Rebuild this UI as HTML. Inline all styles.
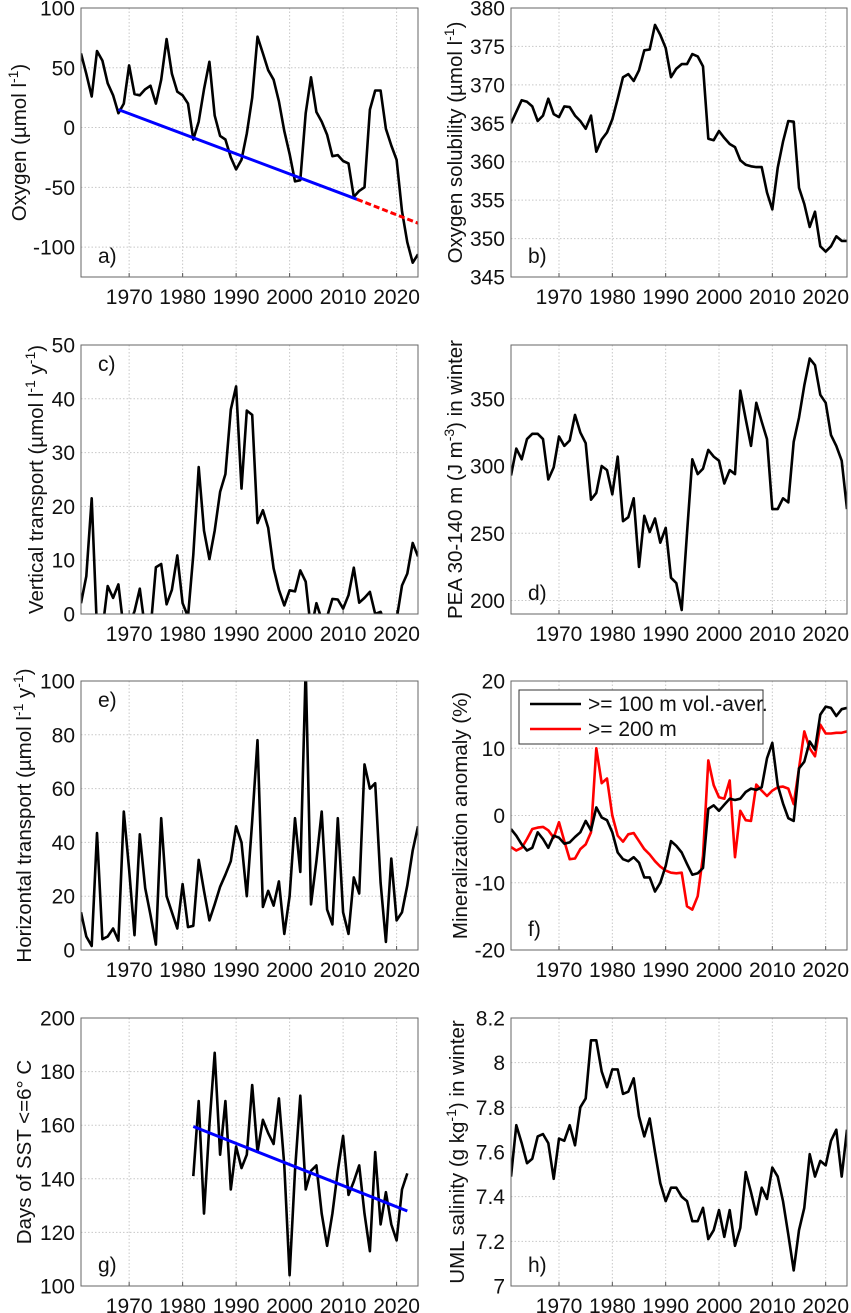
<!DOCTYPE html>
<html><head><meta charset="utf-8">
<style>
html,body{margin:0;padding:0;background:#fff;}
svg{display:block;font-family:"Liberation Sans",Arial,sans-serif;}
.tick{font-size:21px;fill:#111;}
.ttl{font-size:20.5px;fill:#111;}
.grid{stroke:#c8c8c8;stroke-width:1;stroke-dasharray:1.5,2;}
</style></head>
<body>
<svg id="fig" width="851" height="1313" viewBox="0 0 851 1313" xmlns="http://www.w3.org/2000/svg"></svg>
<script>
const years = [];
for (let y = 1961; y <= 2024; y++) years.push(y);
const oxygen = [62,45,26,64,56,37,27,12,20,52,28,27,32,35,20,40,74,45,30,27,20,-10,5,32,55,10,-7,-10,-25,-35,-27,-5,25,76,62,48,40,22,-3,-22,-45,-44,12,42,13,5,-6,-24,-23,-28,-30,-58,-53,-50,15,31,31,-1,-15,-27,-70,-96,-113,-106];
const oxyTrendYears = [1968, 2012.6];
const oxyTrendVals = [15, -60];
const oxyProjYears = [2012.6, 2024];
const oxyProjVals = [-60, -80];
const solubility = [365,366.5,368,367.8,367.2,365.3,366,368.2,366.2,365.8,367.2,367.1,366,365.3,364.3,366,361.3,362.9,363.8,365.5,368.2,371,371.4,370.5,371.9,374.5,374.6,377.8,376.5,374.8,371,372.1,372.7,372.7,374,373.7,372.4,363,362.8,364,363.1,362.3,361.9,360.2,359.6,359.4,359.3,359.3,356,353.8,359.2,362.6,365.3,365.2,356.6,354.5,351.5,353.5,349,348.3,349,350.3,349.7,349.7];
const vertical = [2,7,21.5,-3,-3,5.2,3,5.5,-3,-2,0.5,4.7,-3,-3,8.7,9.3,1.8,4.5,10.9,2,-0.5,11,27.3,15.5,10.2,15.5,22.7,26,38,42.3,23.3,37.8,37,16.9,19.3,16,8.5,4.5,1.6,4.4,4.2,8.1,6,-3,2,-1,-0.5,2.8,2.7,1,3.5,8.6,2.1,3,4.1,0,0.4,-2,-3,-1,5.3,7.5,13.2,10.7];
const pea = [293,313,305,320,324,324,320,290,299,322,315,319,338,325,317,275,280,300,297,279,307,259,262,276,225,263,251,261,243,254,217,213,193,250,305,294,298,312,307,304,287,297,294,356,335,315,347,333,320,268,268,276,273,318,336,360,380,375,353,347,323,315,304,268];
const horizontal = [14,5,1.5,43.5,4,5,8,3.5,51.5,30,5.5,43,23,13,2,49,20,14,8,24.5,8.5,9,33.5,22,11,17,23.5,28,33,46,40,20,48,78,16,22,16.5,25.5,6,20,49,29,105,17,33,51.5,15,9.5,49,14,6,27,21,69,60,62,25,3,34,11,14,24,37,46];
const mineral100 = [-2,-3,-4.3,-5.2,-4.8,-2.5,-3.5,-4.8,-3,-3.3,-4.2,-4,-3.2,-2.5,-0.8,-2.2,1.2,-0.3,-0.7,-2.5,-5.5,-6.5,-6.8,-6.2,-7,-9.2,-9.2,-11.3,-10,-7.5,-3.8,-4.5,-5.5,-7.2,-8.8,-8.6,-7.8,1,1.5,0.7,1.6,2.5,2.3,2.5,3.5,4,3.8,4.2,8.5,10.8,4.5,1.8,-0.4,-0.8,7,8,11,9.8,15,16.2,16,14.8,15.8,16];
const mineral200 = [-4.7,-5.2,-4.8,-3.5,-2,-1.8,-1.7,-2.2,-3.3,-1,-3.8,-6.5,-6.4,-5,-4.3,-2.5,10,4.8,5.5,0,-3,-3.9,-2.8,-2.6,-3.8,-5,-5.8,-6.8,-7.6,-8.2,-8.5,-8.6,-8.5,-13.5,-14,-12,-6,8.2,4.5,2.7,2.5,5.2,-6.2,0.7,-0.7,-0.8,4.6,3.7,2.9,3.7,4.2,4.3,4,1.7,7,12.5,10,8.8,13.5,12.2,12.2,12.3,12.3,12.5];
const sstYears = [];
for (let y = 1982; y <= 2022; y++) sstYears.push(y);
const sstDays = [141,169,127,160,187,149,169,136,152,144,149,175,150,162,157,153,170,145,104,143,171,136,143,145,127,115,127,143,156,134,139,145,127,113,150,123,135,123,117,136,142];
const sstTrendYears = [1982, 2022];
const sstTrendVals = [159.5, 128];
const salinity = [7.49,7.72,7.64,7.55,7.57,7.67,7.68,7.64,7.48,7.66,7.65,7.72,7.63,7.80,7.84,8.10,8.10,7.96,7.89,7.97,7.97,7.86,7.87,7.93,7.76,7.67,7.75,7.60,7.46,7.38,7.44,7.44,7.40,7.38,7.29,7.29,7.35,7.21,7.25,7.34,7.22,7.34,7.18,7.26,7.51,7.42,7.32,7.44,7.39,7.53,7.49,7.38,7.23,7.07,7.25,7.35,7.59,7.49,7.56,7.54,7.65,7.70,7.49,7.70];
const xTicks = [1970,1980,1990,2000,2010,2020];

const NS = "http://www.w3.org/2000/svg";
const fig = document.getElementById('fig');
function mk(tag, attrs, parent) {
  const e = document.createElementNS(NS, tag);
  for (const k in attrs) e.setAttribute(k, attrs[k]);
  (parent || fig).appendChild(e);
  return e;
}
const XMIN = 1961, XMAX = 2024;
let clipId = 0;

function panel(p) {
  const g = mk('g', {});
  
  
  const xs = v => p.x0 + (v - XMIN) / (XMAX - XMIN) * (p.x1 - p.x0);
  const ys = v => p.y1 - (v - p.ymin) / (p.ymax - p.ymin) * (p.y1 - p.y0);
  xTicks.forEach(t => {
    const l = mk('line', {x1: xs(t), x2: xs(t), y1: p.y0, y2: p.y1, class: 'grid'}, g);
    
    
    const tk = mk('line', {x1: xs(t), x2: xs(t), y1: p.y1, y2: p.y1 - 4, stroke: '#555', 'stroke-width': 1}, g);
    
    
    const tx = mk('text', {x: xs(t), y: p.y1 + 27, 'text-anchor': 'middle', class: 'tick'}, g);
    tx.textContent = t;
    
    
  });
  p.yticks.forEach((t, i) => {
    const l = mk('line', {x1: p.x0, x2: p.x1, y1: ys(t), y2: ys(t), class: 'grid'}, g);
    
    
    const tx = mk('text', {x: p.x0 - 6, y: ys(t) + 7.5, 'text-anchor': 'end', class: 'tick'}, g);
    tx.textContent = p.ylabels ? p.ylabels[i] : t;
    
    
  });
  const cid = 'clip' + (clipId++);
  const cp = mk('clipPath', {id: cid}, g);
  mk('rect', {x: p.x0, y: p.y0, width: p.x1 - p.x0, height: p.y1 - p.y0}, cp);
  const sg = mk('g', {'clip-path': 'url(#' + cid + ')'}, g);
  p.series.forEach(s => {
    const d = s.xs.map((x, i) => (i ? 'L' : 'M') + xs(x).toFixed(1) + ',' + ys(s.ys[i]).toFixed(1)).join('');
    const a = {d: d, fill: 'none', stroke: s.color, 'stroke-width': s.w || 2.6, 'stroke-linejoin': 'round'};
    if (s.dash) a['stroke-dasharray'] = s.dash;
    const path = mk('path', a, sg);
    
    
  });
  const box = mk('rect', {x: p.x0, y: p.y0, width: p.x1 - p.x0, height: p.y1 - p.y0, fill: 'none', stroke: '#666', 'stroke-width': 1}, g);
  
  
  const ly = p.labelTop ? p.y0 + 26 : p.y1 - 14;
  const lt = mk('text', {x: p.x0 + 17, y: ly, class: 'tick'}, g);
  lt.textContent = p.id + ')';
  
  
  const cy = (p.y0 + p.y1) / 2;
  const tt = mk('text', {x: 0, y: 0, 'text-anchor': 'middle', class: 'ttl', transform: 'translate(' + p.tx + ',' + cy + ') rotate(-90)'}, g);
  
  
  p.title.forEach(part => {
    const ts = mk('tspan', part[1] ? {'baseline-shift': 'super', 'font-size': '14px'} : {}, tt);
    ts.textContent = part[0];
  });
  return g;
}

const L = [81, 418], R = [511, 847];
const rows = [[8, 277], [345, 614], [681, 950], [1018, 1286]];

panel({id: 'a', x0: L[0], x1: L[1], y0: rows[0][0], y1: rows[0][1], ymin: -125, ymax: 100, yticks: [-100, -50, 0, 50, 100], tx: 26,
  title: [['Oxygen (\u00b5mol l'], ['-1', 1], [')']],
  series: [{xs: years, ys: oxygen, color: '#000', name: 'oxygen-line'},
    {xs: oxyTrendYears, ys: oxyTrendVals, color: '#0000ff', w: 3, name: 'oxygen-trend-line'},
    {xs: oxyProjYears, ys: oxyProjVals, color: '#ff0000', w: 3, dash: '6,3', name: 'oxygen-trend-projection'}]});
panel({id: 'b', x0: R[0], x1: R[1], y0: rows[0][0], y1: rows[0][1], ymin: 345, ymax: 380, yticks: [345, 350, 355, 360, 365, 370, 375, 380], tx: 462,
  title: [['Oxygen solubility (\u00b5mol l'], ['-1', 1], [')']],
  series: [{xs: years, ys: solubility, color: '#000', name: 'oxygen-solubility-line'}]});
panel({id: 'c', x0: L[0], x1: L[1], y0: rows[1][0], y1: rows[1][1], ymin: 0, ymax: 50, yticks: [0, 10, 20, 30, 40, 50], tx: 43, labelTop: true,
  title: [['Vertical transport (\u00b5mol l'], ['-1', 1], [' y'], ['-1', 1], [')']],
  series: [{xs: years, ys: vertical, color: '#000', name: 'vertical-transport-line'}]});
panel({id: 'd', x0: R[0], x1: R[1], y0: rows[1][0], y1: rows[1][1], ymin: 190, ymax: 390, yticks: [200, 250, 300, 350], tx: 462,
  title: [['PEA 30-140 m (J m'], ['-3', 1], [') in winter']],
  series: [{xs: years, ys: pea, color: '#000', name: 'pea-line'}]});
panel({id: 'e', x0: L[0], x1: L[1], y0: rows[2][0], y1: rows[2][1], ymin: 0, ymax: 100, yticks: [0, 20, 40, 60, 80, 100], tx: 31, labelTop: true,
  title: [['Horizontal transport (\u00b5mol l'], ['-1', 1], [' y'], ['-1', 1], [')']],
  series: [{xs: years, ys: horizontal, color: '#000', name: 'horizontal-transport-line'}]});
panel({id: 'f', x0: R[0], x1: R[1], y0: rows[2][0], y1: rows[2][1], ymin: -20, ymax: 20, yticks: [-20, -10, 0, 10, 20], tx: 467,
  title: [['Mineralization anomaly (%)']],
  series: [{xs: years, ys: mineral200, color: '#ff0000', name: 'mineralization-200m-line'},
    {xs: years, ys: mineral100, color: '#000', name: 'mineralization-100m-line'}]});
panel({id: 'g', x0: L[0], x1: L[1], y0: rows[3][0], y1: rows[3][1], ymin: 100, ymax: 200, yticks: [100, 120, 140, 160, 180, 200], tx: 31,
  title: [['Days of SST <=6\u00b0 C']],
  series: [{xs: sstYears, ys: sstDays, color: '#000', name: 'sst-days-line'},
    {xs: sstTrendYears, ys: sstTrendVals, color: '#0000ff', w: 3, name: 'sst-trend-line'}]});
panel({id: 'h', x0: R[0], x1: R[1], y0: rows[3][0], y1: rows[3][1], ymin: 7, ymax: 8.2, yticks: [7, 7.2, 7.4, 7.6, 7.8, 8, 8.2], ylabels: ['7', '7.2', '7.4', '7.6', '7.8', '8', '8.2'], tx: 464,
  title: [['UML salinity (g kg'], ['-1', 1], [') in winter']],
  series: [{xs: years, ys: salinity, color: '#000', name: 'salinity-line'}]});

const lg = mk('g', {});


mk('rect', {x: 519, y: 690, width: 244, height: 54, fill: '#fff', stroke: '#333', 'stroke-width': 1}, lg);
const le1 = mk('line', {x1: 530, x2: 581, y1: 704, y2: 704, stroke: '#000', 'stroke-width': 2.6}, lg);


const lt1 = mk('text', {x: 588, y: 711, class: 'tick'}, lg);
lt1.textContent = '>= 100 m vol.-aver.';
const le2 = mk('line', {x1: 530, x2: 581, y1: 729, y2: 729, stroke: '#ff0000', 'stroke-width': 2.6}, lg);


const lt2 = mk('text', {x: 588, y: 736, class: 'tick'}, lg);
lt2.textContent = '>= 200 m';
</script>
</body></html>
